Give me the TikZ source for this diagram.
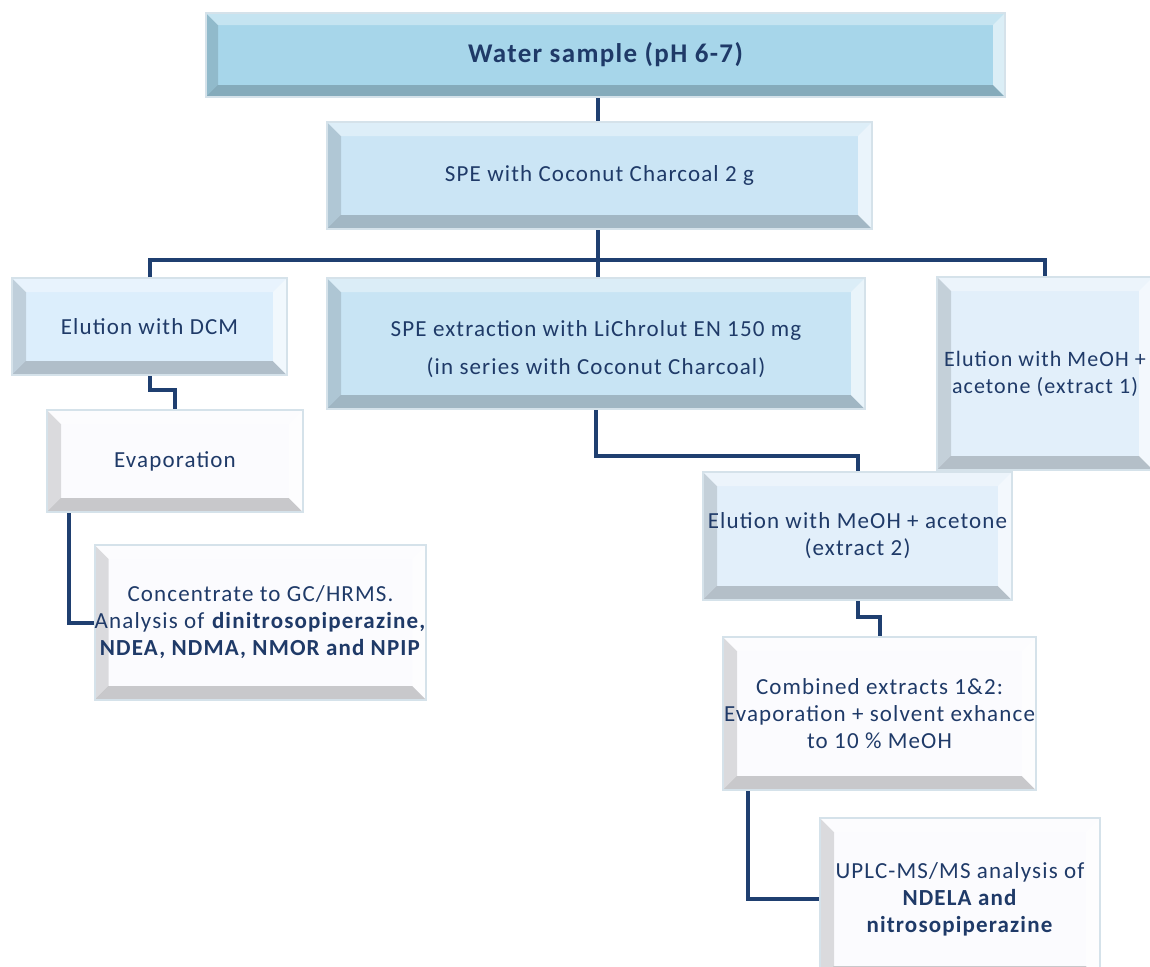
\documentclass[tikz,border=0pt]{standalone}
\usepackage{fontspec}
\setmainfont{Carlito}[LetterSpace=5]
\usetikzlibrary{calc}
\definecolor{cA}{HTML}{A7D6EA}
\definecolor{cB}{HTML}{CBE5F5}
\definecolor{cC}{HTML}{DCEEFC}
\definecolor{cD}{HTML}{C8E4F4}
\definecolor{cE}{HTML}{E2EFFA}
\definecolor{cW}{HTML}{FBFBFE}
\definecolor{edge}{HTML}{D5E2EA}
\definecolor{txt}{HTML}{1F3A68}
\definecolor{linec}{HTML}{1F3F70}
\def\bvs{7pt}
\tikzset{
  bevsize/.code={\def\bvs{#1}},
  bevbox/.style={draw=edge, line width=1pt, fill=#1, inner sep=0pt, align=center,
    text=txt, font=\fontsize{11.5}{13.5}\selectfont,
    path picture={
      \path (path picture bounding box.south west) coordinate (pSW)
            (path picture bounding box.north west) coordinate (pNW)
            (path picture bounding box.north east) coordinate (pNE)
            (path picture bounding box.south east) coordinate (pSE);
      \fill[black,opacity=.13] (pSW) -- (pNW) -- ($(pNW)+(\bvs,-\bvs)$) -- ($(pSW)+(\bvs,\bvs)$) -- cycle;
      \fill[black,opacity=.2] (pSW) -- (pSE) -- ($(pSE)+(-\bvs,\bvs)$) -- ($(pSW)+(\bvs,\bvs)$) -- cycle;
      \fill[white,opacity=.35] (pNW) -- (pNE) -- ($(pNE)+(-\bvs,-\bvs)$) -- ($(pNW)+(\bvs,-\bvs)$) -- cycle;
      \fill[white,opacity=.6] (pNE) -- (pSE) -- ($(pSE)+(-\bvs,\bvs)$) -- ($(pNE)+(-\bvs,-\bvs)$) -- cycle;
    }},
  conn/.style={draw=linec, line width=2pt}
}
\begin{document}
\begin{tikzpicture}[x=0.5pt,y=-0.5pt]
\useasboundingbox[fill=white] (0,0) rectangle (1150,966);

\node[bevbox=cA, bevsize=6pt, minimum width=399.5pt, minimum height=42pt,
      font=\fontsize{13.5}{16}\selectfont\bfseries] (w) at (605.5,55) {Water sample (pH 6-7)};
\node[bevbox=cB, minimum width=272.5pt, minimum height=53.5pt] (s) at (599.5,175.5)
  {SPE with Coconut Charcoal 2 g};
\node[bevbox=cC, minimum width=137.5pt, minimum height=48.5pt] (dcm) at (149.5,326.5)
  {Elution with DCM};
\node[bevbox=cD, minimum width=269pt, minimum height=65.5pt] (li) at (596,343.5)
  {\rule{0pt}{13.5pt}SPE extraction with LiChrolut EN 150 mg\\[5.5pt] (in series with Coconut Charcoal)};
\node[bevbox=cE, minimum width=108pt, minimum height=96.5pt,
      font=\fontsize{11}{13.5}\selectfont] (ex1) at (1045,373.5)
  {Elution with MeOH +\\ acetone (extract 1)};
\node[bevbox=cW, minimum width=128pt, minimum height=51pt] (evap) at (175,461)
  {Evaporation};
\node[bevbox=cW, minimum width=163.5pt, minimum height=77.5pt] (conc) at (260.5,622.5)
  {Concentrate to GC/HRMS.\\ Analysis of \textbf{dinitrosopiperazine,}\\ \textbf{NDEA, NDMA, NMOR and NPIP}};
\node[bevbox=cE, minimum width=154.5pt, minimum height=64pt] (ex2) at (857.5,536)
  {Elution with MeOH + acetone\\ (extract 2)};
\node[bevbox=cW, minimum width=156.5pt, minimum height=76.5pt] (comb) at (879.5,713.5)
  {Combined extracts 1\&2:\\ Evaporation + solvent exhance\\ to 10 \% MeOH};
\node[bevbox=cW, minimum width=140pt, minimum height=81pt] (uplc) at (960,899)
  {UPLC-MS/MS analysis of\\ \textbf{NDELA and}\\ \textbf{nitrosopiperazine}};

\coordinate (bus) at (598,260);
\draw[conn] (w.south -| bus) -- (s.north -| bus);
\draw[conn] (s.south -| bus) -- (li.north -| bus);
\draw[conn] (dcm.north) |- (bus) -| (ex1.north);
\draw[conn] (dcm.south) -- ++(0,14) -| (evap.north);
\draw[conn] ($(evap.south west)+(23,0)$) |- (conc.west);
\draw[conn] (li.south) -- ++(0,46) -| (ex2.north);
\draw[conn] (ex2.south) -- ++(0,16) -| (comb.north);
\draw[conn] ($(comb.south west)+(26,0)$) |- (uplc.west);
\end{tikzpicture}
\end{document}
